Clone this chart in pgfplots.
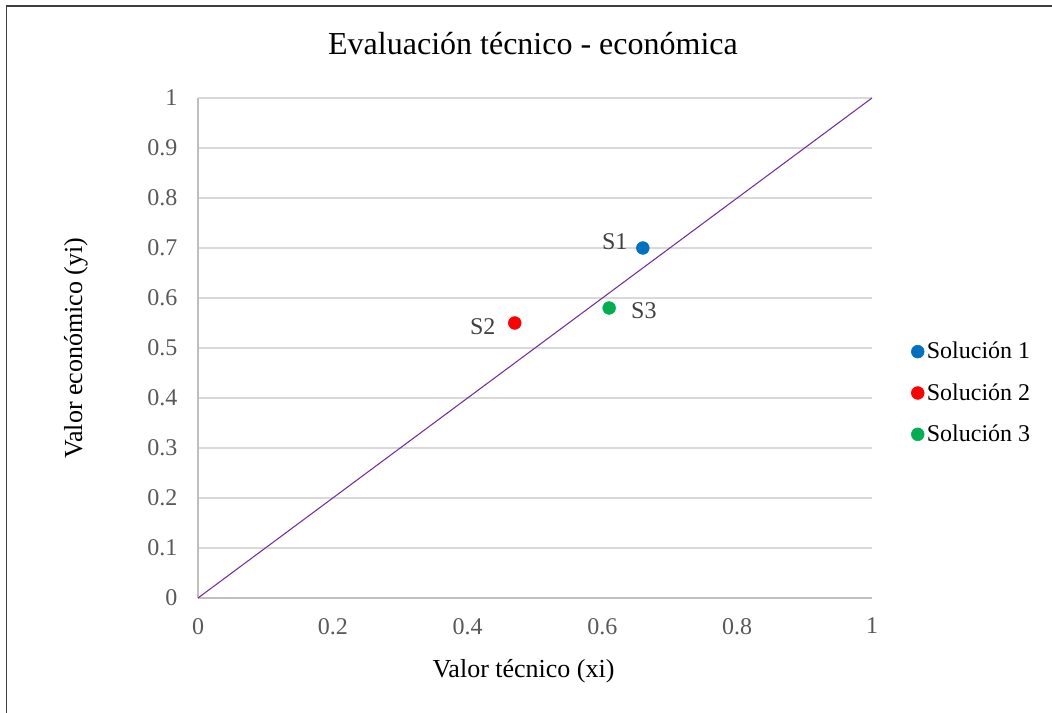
\documentclass[border=0pt]{standalone}
\usepackage{fontspec}
\setmainfont{Liberation Serif}
\usepackage{pgfplots}
\pgfplotsset{compat=1.18}
\definecolor{sblue}{HTML}{0070C0}
\definecolor{sred}{HTML}{FF0000}
\definecolor{sgreen}{HTML}{00B050}
\definecolor{spurple}{HTML}{7030A0}
\definecolor{gridc}{HTML}{D9D9D9}
\definecolor{axc}{HTML}{BFBFBF}
\definecolor{tickc}{HTML}{595959}
\definecolor{lblc}{HTML}{404040}
\begin{document}
\begin{tikzpicture}
\useasboundingbox (0,0) rectangle (789pt,534.75pt);
\draw[color=black!75, line width=0.9pt] (4.6pt,0) -- (4.6pt,530.2pt) -- (789pt,530.2pt);
\begin{axis}[
  at={(148.5pt,86.25pt)}, anchor=south west,
  scale only axis, width=505.5pt, height=375pt,
  xmin=0, xmax=1, ymin=0, ymax=1,
  xtick={0,0.2,...,1.0}, ytick={0,0.1,...,1.0},
  /pgf/number format/assume math mode=true,
  xticklabels={0,0.2,0.4,0.6,0.8,1},
  yticklabels={0,0.1,0.2,0.3,0.4,0.5,0.6,0.7,0.8,0.9,1},
  tick label style={font=\fontsize{18}{21}\selectfont, text=tickc},
  xticklabel style={yshift=-11.5pt},
  yticklabel style={xshift=-12pt},
  major tick length=0pt,
  ymajorgrids, grid style={gridc, line width=1.1pt},
  axis x line*=bottom, axis y line*=left,
  axis line style={axc, line width=1.1pt, -},
  xlabel={Valor técnico (xi)}, ylabel={Valor económico (yi)},
  label style={font=\fontsize{19.5}{22}\selectfont},
  xlabel style={at={(axis description cs:0.483,-0.146)}, anchor=center},
  ylabel style={at={(axis description cs:-0.181,0.5)}, anchor=center, rotate=0},
  title={Evaluación técnico - económica},
  title style={at={(axis description cs:0.497,1.092)}, anchor=center, font=\fontsize{24}{28}\selectfont},
  legend style={at={(axis description cs:1.058,0.41)}, anchor=west, draw=none, fill=none,
    font=\fontsize{18}{21}\selectfont, row sep=13pt, inner sep=0pt},
  legend cell align=left,
  legend image code/.code={\draw[mark repeat=2,mark phase=2,#1] plot coordinates {(0pt,0pt) (5pt,0pt) (10pt,0pt)};},
  clip=false,
]
\addplot[spurple, line width=0.8pt, forget plot] coordinates {(0,0) (1,1)};
\addplot[only marks, mark=*, mark size=4.8pt, color=sblue,
  nodes near coords={S1}, every node near coord/.append style={anchor=east, xshift=-8pt, yshift=5pt, text=lblc, font=\fontsize{18}{21}\selectfont}]
  coordinates {(0.66,0.70)};
\addlegendentry{Solución 1}
\addplot[only marks, mark=*, mark size=4.8pt, color=sred,
  nodes near coords={S2}, every node near coord/.append style={anchor=east, xshift=-11pt, yshift=-3pt, text=lblc, font=\fontsize{18}{21}\selectfont}]
  coordinates {(0.47,0.55)};
\addlegendentry{Solución 2}
\addplot[only marks, mark=*, mark size=4.8pt, color=sgreen,
  nodes near coords={S3}, every node near coord/.append style={anchor=west, xshift=13pt, yshift=-2pt, text=lblc, font=\fontsize{18}{21}\selectfont}]
  coordinates {(0.61,0.58)};
\addlegendentry{Solución 3}
\end{axis}
\end{tikzpicture}
\end{document}
